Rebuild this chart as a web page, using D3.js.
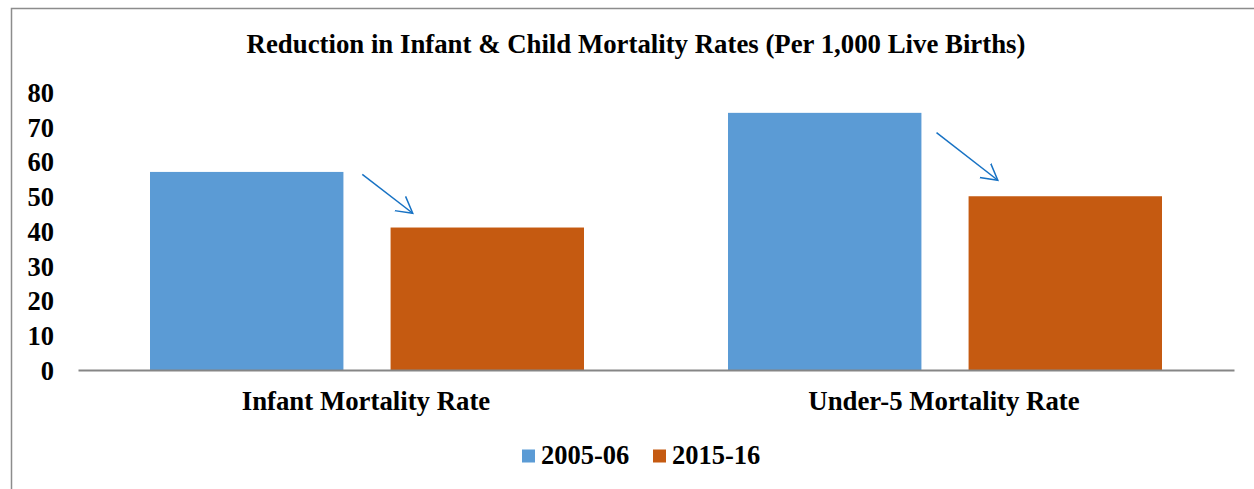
<!DOCTYPE html>
<html>
<head>
<meta charset="utf-8">
<script src="https://cdn.jsdelivr.net/npm/d3@7"></script>
<style>
  body { margin: 0; background: #fff; }
  text { font-family: "Liberation Serif", "Times New Roman", serif; font-weight: bold; fill: #000; }
</style>
</head>
<body>
<div id="paper"></div>
<script>

// chart data.

const categories = ["Infant Mortality Rate", "Under-5 Mortality Rate"]
const series = ["2005-06", "2015-16"]
const values_2005 = [57, 74]
const values_2015 = [41, 50]
const y_ticks = [0, 10, 20, 30, 40, 50, 60, 70, 80]
const colours = ["#5B9BD5", "#C55A11"]

// arrow annotations, in data units: [from value, to value].

const arrow_values = [[56.3, 45.1], [68.3, 54.6]]

// where the arrows start and end, as a share of the gap between the two bars.

const arrow_gap_share = [[0.4, 1.47], [0.32, 1.62]]

const width = 1254, height = 489
const title = "Reduction in Infant & Child Mortality Rates (Per 1,000 Live Births)"

let svg = d3.select("#paper")
    .append("svg")
    .attr("id", "canvas")
    .attr("width", width)
    .attr("height", height)

// outer frame (cut off at right and bottom like the source).

svg.append("path")
    .attr("d", `M11.5,${height} V8.5 H${width}`)
    .attr("fill", "none")
    .attr("stroke", "#8c8c8c")
    .attr("stroke-width", 1.5)

svg.append("text")
    .attr("x", 636)
    .attr("y", 53)
    .attr("text-anchor", "middle")
    .style("font-size", "26.8px")
    .text(title)

// scales.

let x0 = d3.scaleBand().domain(categories).range([78, 1234])
let x1 = d3.scaleBand().domain(series).range([72, x0.bandwidth() - 72]).paddingInner(0.196)
let y = d3.scaleLinear().domain([0, 80]).range([370, 92])

// y axis labels only (no line, no ticks).

let y_axis = d3.axisLeft(y).tickValues(y_ticks).tickSize(0).tickPadding(0)
svg.append("g")
    .attr("transform", "translate(54,0)")
    .call(y_axis)
    .call(g => g.select(".domain").remove())
    .selectAll("text")
    .attr("dy", "0.35em")
    .style("font-size", "26.5px")
    .style("font-family", "'Liberation Serif', serif")

// bars.

let rows = categories.map((c, i) => ({ cat: c, vals: [values_2005[i], values_2015[i]] }))

let groups = svg.selectAll(".group")
    .data(rows)
    .join("g")
    .attr("class", "group")
    .attr("transform", d => `translate(${x0(d.cat)},0)`)

groups.selectAll("rect")
    .data(d => d.vals.map((v, j) => ({ s: series[j], v: v, j: j })))
    .join("rect")
    .attr("x", d => x1(d.s))
    .attr("y", d => y(d.v))
    .attr("width", x1.bandwidth())
    .attr("height", d => y(0) - y(d.v))
    .attr("fill", d => colours[d.j])

// baseline.

let x_axis = d3.axisBottom(x0).tickSize(0).tickPadding(0).tickFormat("")
svg.append("g")
    .attr("transform", `translate(0,${y(0)})`)
    .call(x_axis)
    .select(".domain")
    .attr("stroke", "#868686")
    .attr("stroke-width", 2)

// category labels.

svg.selectAll(".cat_label")
    .data(categories)
    .join("text")
    .attr("class", "cat_label")
    .attr("x", d => x0(d) + x0.bandwidth() / 2 - 1)
    .attr("y", 410)
    .attr("text-anchor", "middle")
    .style("font-size", "26.8px")
    .text(d => d)

// arrows between the bars.

let defs = svg.append("defs")
defs.append("marker")
    .attr("id", "head")
    .attr("viewBox", "0 0 20 20")
    .attr("refX", 16)
    .attr("refY", 10)
    .attr("markerWidth", 20)
    .attr("markerHeight", 20)
    .attr("markerUnits", "userSpaceOnUse")
    .attr("orient", "auto")
    .append("path")
    .attr("d", "M0,1 L16,10 L0,19")
    .attr("fill", "none")
    .attr("stroke", "#1772C4")
    .attr("stroke-width", 1.5)

let gap = x1.step() - x1.bandwidth()

svg.selectAll(".arrow")
    .data(arrow_values)
    .join("line")
    .attr("class", "arrow")
    .attr("x1", (d, i) => x0(categories[i]) + x1(series[0]) + x1.bandwidth() + gap * arrow_gap_share[i][0])
    .attr("y1", d => y(d[0]))
    .attr("x2", (d, i) => x0(categories[i]) + x1(series[0]) + x1.bandwidth() + gap * arrow_gap_share[i][1])
    .attr("y2", d => y(d[1]))
    .attr("stroke", "#1772C4")
    .attr("stroke-width", 1.5)
    .attr("marker-end", "url(#head)")

// legend.

let legend = svg.selectAll(".legend")
    .data(series)
    .join("g")
    .attr("class", "legend")
    .attr("transform", (d, i) => `translate(${522 + i * 131},449.5)`)

legend.append("rect")
    .attr("width", 13)
    .attr("height", 13)
    .attr("fill", (d, i) => colours[i])

legend.append("text")
    .attr("x", 19)
    .attr("y", 14)
    .style("font-size", "26.5px")
    .text(d => d)

</script>
</body>
</html>
